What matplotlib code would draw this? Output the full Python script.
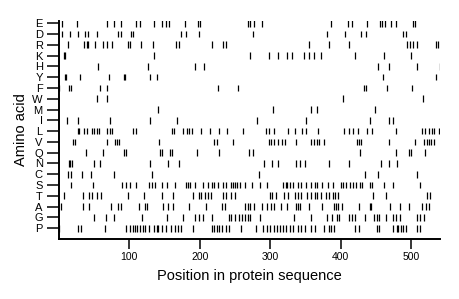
import matplotlib
matplotlib.use("Agg")
import matplotlib.pyplot as plt

plt.rcParams['font.family'] = ['Liberation Sans', 'DejaVu Sans']

# amino acids, top row first
amino_acids = ['E', 'D', 'R', 'K', 'H', 'Y', 'F', 'W', 'M', 'I',
               'L', 'V', 'Q', 'N', 'C', 'S', 'T', 'A', 'G', 'P']

# positions where each residue occurs
pos_E = [5, 26, 69, 79, 88, 110, 116, 135, 147, 152, 157, 179, 197, 201, 268, 272,
         277, 288, 387, 410, 416, 437, 456, 459, 463, 472, 479, 503, 506]
pos_D = [5, 16, 28, 38, 42, 54, 84, 88, 102, 106, 174, 181, 199, 276, 380, 406, 429,
         436, 488, 493]
pos_R = [13, 36, 40, 42, 51, 63, 69, 76, 98, 101, 117, 134, 167, 171, 218, 233, 237,
         355, 384, 412, 494, 499, 503, 509, 536, 538]
pos_K = [7, 9, 135, 271, 298, 311, 324, 331, 348, 355, 362, 372, 420, 461, 500]
pos_H = [56, 126, 194, 206, 453, 469, 509, 541]
pos_Y = [9, 11, 30, 71, 92, 94, 130, 140, 460, 535]
pos_F = [1, 14, 17, 58, 68, 226, 254, 433, 436, 466, 501]
pos_W = [55, 68, 404, 517]
pos_M = [141, 304, 358, 366, 449]
pos_I = [12, 27, 73, 129, 168, 281, 351, 441, 468, 475]
pos_L = [27, 29, 36, 40, 47, 50, 54, 57, 69, 73, 75, 106, 110, 161, 163, 177, 182,
         185, 189, 202, 214, 228, 239, 261, 294, 299, 306, 325, 335, 345, 351, 368,
         405, 412, 418, 424, 438, 445, 479, 516, 520, 526, 530, 533, 539]
pos_V = [21, 23, 68, 80, 83, 86, 143, 221, 224, 247, 298, 301, 305, 311, 317, 321,
         336, 358, 362, 366, 370, 376, 423, 426, 429, 469, 506, 519, 522, 525, 528, 532]
pos_Q = [39, 63, 93, 95, 144, 147, 158, 161, 196, 228, 270, 276, 427, 478, 497, 500, 520]
pos_N = [14, 16, 19, 50, 59, 130, 155, 171, 291, 302, 311, 337, 343, 349, 384, 412,
         457, 469, 480]
pos_C = [13, 17, 33, 46, 79, 132, 284, 435, 453, 508]
pos_S = [17, 48, 90, 95, 101, 110, 128, 132, 137, 147, 153, 165, 180, 184, 187, 193,
         205, 212, 217, 221, 226, 233, 238, 245, 247, 250, 253, 257, 265, 274, 285,
         296, 318, 322, 324, 328, 332, 339, 344, 351, 358, 363, 367, 373, 382, 389,
         401, 404, 408, 414, 417, 422, 428, 431, 442, 445, 462, 475, 512]
pos_T = [7, 34, 43, 47, 55, 60, 99, 121, 147, 162, 191, 199, 202, 207, 212, 216, 233,
         238, 245, 250, 300, 303, 309, 320, 326, 335, 340, 344, 352, 358, 363, 367,
         372, 379, 383, 389, 392, 397, 446, 465, 522, 527]
pos_A = [3, 35, 43, 74, 84, 88, 114, 122, 125, 148, 155, 162, 185, 209, 231, 236, 265,
         268, 271, 277, 288, 296, 301, 305, 315, 324, 336, 339, 343, 355, 373, 390,
         393, 396, 402, 426, 441, 443, 470, 484, 497, 516, 521, 525]
pos_G = [50, 67, 79, 118, 154, 176, 193, 199, 205, 217, 241, 244, 250, 256, 260, 264,
         268, 271, 285, 334, 358, 381, 388, 395, 398, 412, 416, 421, 434, 447, 451,
         455, 465, 474, 479, 484, 508, 513, 519]
pos_P = [1, 28, 31, 66, 96, 101, 105, 108, 111, 115, 119, 123, 128, 135, 140, 141, 147,
         152, 160, 165, 169, 174, 190, 217, 220, 224, 228, 232, 237, 242, 258, 280,
         290, 295, 300, 305, 310, 314, 318, 323, 328, 333, 339, 344, 349, 358, 363,
         376, 383, 387, 391, 420, 426, 451, 455, 474, 480, 482, 486, 489, 493, 508, 512]

positions = [pos_E, pos_D, pos_R, pos_K, pos_H, pos_Y, pos_F, pos_W, pos_M, pos_I,
             pos_L, pos_V, pos_Q, pos_N, pos_C, pos_S, pos_T, pos_A, pos_G, pos_P]
seq_length = 541
x_ticks = [100, 200, 300, 400, 500]

fig = plt.figure(figsize=(4.6, 2.99), dpi=100)
ax = fig.add_axes([0.1276, 0.2007, 0.8289, 0.7290])

n = len(amino_acids)
offsets = [n - 1 - i for i in range(n)]
ax.eventplot(positions, lineoffsets=offsets, linelengths=0.62,
             colors='black', linewidths=0.9)

ax.set_xlim(0, seq_length)
ax.set_ylim(-1.0, n - 0.8)
ax.set_xticks(x_ticks)
ax.set_yticks(offsets)
ax.set_yticklabels(amino_acids)

for side in ['top', 'right']:
    ax.spines[side].set_visible(False)
for side in ['left', 'bottom']:
    ax.spines[side].set_linewidth(1.4)

ax.tick_params(axis='x', direction='out', length=7.5, width=1.1, pad=2, labelsize=7.5)
ax.tick_params(axis='y', direction='out', length=8.5, width=1.1, pad=3, labelsize=8)

ax.set_xlabel('Position in protein sequence', fontsize=10.5, labelpad=5)
ax.set_ylabel('Amino acid', fontsize=10.5, labelpad=3)

fig.savefig('out.png', dpi=100)
